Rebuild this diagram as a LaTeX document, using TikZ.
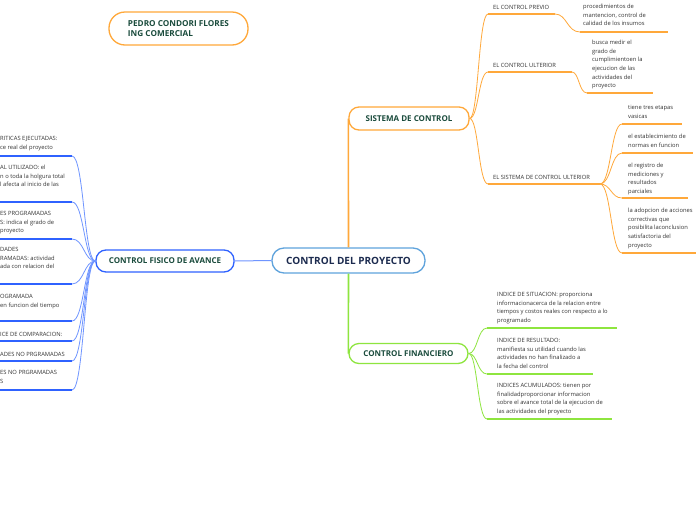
\documentclass[tikz,border=0pt]{standalone}
\usepackage{fontspec}
\setmainfont{Open Sans}
\definecolor{org}{HTML}{FFA83A}
\definecolor{blu}{HTML}{2F62FF}
\definecolor{bluc}{HTML}{6F95FF}
\definecolor{grn}{HTML}{8EE53F}
\definecolor{mainb}{HTML}{5FA3DC}
\definecolor{ntxt}{HTML}{1A4B3C}
\definecolor{mtxt}{HTML}{1C2B4F}
\definecolor{txtc}{HTML}{333333}
\tikzset{
  txt/.style={anchor=north west, inner sep=0pt, align=left, font=\fontsize{5.8}{8.6}\selectfont, text=txtc, execute at begin node={\rule{0pt}{5pt}}},
  ul/.style={line width=1.8pt},
  con/.style={line width=0.8pt},
  topic/.style={draw, line width=1.3pt, rounded corners=10pt, fill=white, inner sep=0pt, font=\bfseries\fontsize{8}{10}\selectfont, text=ntxt},
}
\begin{document}
\begin{tikzpicture}[x=1pt,y=-1pt]
\useasboundingbox (0,0) rectangle (696,520);
\fill[white] (0,0) rectangle (696,520);

% ---------- topic nodes
\node[topic, draw=mainb, minimum width=153pt, minimum height=25pt, rounded corners=12pt, font=\bfseries\fontsize{10}{12}\selectfont, text=mtxt] (main) at (348.5,260.5) {CONTROL DEL PROYECTO};
\node[topic, draw=blu, minimum width=138pt, minimum height=22pt] (fis) at (165,261) {CONTROL FISICO DE AVANCE};
\node[topic, draw=org, minimum width=120pt, minimum height=23pt] (sis) at (409,118.5) {SISTEMA DE CONTROL};
\node[topic, draw=grn, minimum width=119pt, minimum height=20pt] (fin) at (408.5,353.5) {CONTROL FINANCIERO};
\node[topic, draw=org, minimum width=139pt, minimum height=33pt, rounded corners=16pt, align=left, font=\bfseries\fontsize{8.2}{10}\selectfont] (title) at (178.5,28.5) {PEDRO CONDORI FLORES\\ING COMERCIAL};

% ---------- main branches
\draw[bluc, line width=1pt] (fis.east) -- (main.west);
\draw[org, line width=1.6pt] (main.north) -- (sis.west);
\draw[grn, line width=1.6pt] (main.south) -- (fin.west);

% ---------- SISTEMA DE CONTROL branch
\coordinate (p1s) at (488,14);  \coordinate (p1e) at (555,14);
\coordinate (p2s) at (488,72);  \coordinate (p2e) at (572,72);
\coordinate (p3s) at (488,184); \coordinate (p3e) at (600,184);
\coordinate (p1cs) at (580,32); \coordinate (p1ce) at (668,32);
\coordinate (p2cs) at (587,93); \coordinate (p2ce) at (653,93);
\coordinate (p3as) at (622,124); \coordinate (p3ae) at (682,124);
\coordinate (p3bs) at (622,153); \coordinate (p3be) at (693,153);
\coordinate (p3cs) at (622,198); \coordinate (p3ce) at (688,198);
\coordinate (p3ds) at (622,253); \coordinate (p3de) at (696,253);

\begin{scope}[org]
\draw[con] (sis.east) .. controls (478.5,118.5) and (478.5,14) .. (p1s);
\draw[con] (sis.east) .. controls (478.5,118.5) and (478.5,72) .. (p2s);
\draw[con] (sis.east) .. controls (478.5,118.5) and (478.5,184) .. (p3s);
\draw[ul] (p1s) -- (p1e);
\draw[ul] (p2s) -- (p2e);
\draw[ul] (p3s) -- (p3e);
\draw[con] (p1e) .. controls (567,14) and (567,32) .. (p1cs);
\draw[con] (p2e) .. controls (579,72) and (579,93) .. (p2cs);
\draw[ul] (p1cs) -- (p1ce);
\draw[ul] (p2cs) -- (p2ce);
\draw[con] (p3e) .. controls (611,184) and (611,124) .. (p3as);
\draw[con] (p3e) .. controls (611,184) and (611,153) .. (p3bs);
\draw[con] (p3e) .. controls (611,184) and (611,198) .. (p3cs);
\draw[con] (p3e) .. controls (611,184) and (611,253) .. (p3ds);
\draw[ul] (p3as) -- (p3ae);
\draw[ul] (p3bs) -- (p3be);
\draw[ul] (p3cs) -- (p3ce);
\draw[ul] (p3ds) -- (p3de);
\end{scope}

\node[txt] (p1) at (493,4) {EL CONTROL PREVIO};
\node[txt] (p1c) at (583,4) {procedimientos de\\mantencion, control de\\calidad de los insumos};
\node[txt] (p2) at (493,62) {EL CONTROL ULTERIOR};
\node[txt] (p2c) at (592,40) {busca medir el\\grado de\\cumplimientoen la\\ejecucion de las\\actividades del\\proyecto};
\node[txt] (p3) at (493,174) {EL SISTEMA DE CONTROL ULTERIOR};
\node[txt] (p3a) at (628,105) {tiene tres etapas\\vasicas};
\node[txt] (p3b) at (628,134) {el establecimiento de\\normas en funcion};
\node[txt] (p3c) at (628,163) {el registro de\\mediciones y\\resultados\\parciales};
\node[txt] (p3d) at (628,208) {la adopcion de acciones\\correctivas que\\posibilita laconclusion\\satisfactoria del\\proyecto};

% ---------- CONTROL FINANCIERO branch
\coordinate (g1s) at (487,328); \coordinate (g1e) at (617,328);
\coordinate (g2s) at (487,374); \coordinate (g2e) at (593,374);
\coordinate (g3s) at (487,419); \coordinate (g3e) at (612,419);
\begin{scope}[grn]
\draw[con] (fin.east) .. controls (477.5,353.5) and (477.5,328) .. (g1s);
\draw[con] (fin.east) .. controls (477.5,353.5) and (477.5,374) .. (g2s);
\draw[con] (fin.east) .. controls (477.5,353.5) and (477.5,419) .. (g3s);
\draw[ul] (g1s) -- (g1e);
\draw[ul] (g2s) -- (g2e);
\draw[ul] (g3s) -- (g3e);
\end{scope}
\node[txt] (g1) at (497,292) {INDICE DE SITUACION: proporciona\\informacionacerca de la relacion entre\\tiempos y costos reales con respecto a lo\\programado};
\node[txt] (g2) at (497,338) {INDICE DE RESULTADO:\\manifiesta su utilidad cuando las\\actividades no han finalizado a\\la fecha del control};
\node[txt] (g3) at (497,383) {INDICES ACUMULADOS: tienen por\\finalidadproporcionar informacion\\sobre el avance total de la ejecucion de\\las actividades del proyecto};

% ---------- CONTROL FISICO DE AVANCE branch
\foreach \n/\y in {1/156,2/202,3/239,4/284,5/321,6/341,7/361,8/390}{
  \coordinate (l\n s) at (-3,\y);
  \coordinate (l\n e) at (72,\y);
}
\foreach \n/\y in {1/156,2/202,3/239,4/284,5/321,6/341,7/361,8/390}{
  \draw[con, bluc] (l\n e) .. controls (84,\y) and (84,261) .. (fis.west);
  \draw[ul, blu, line width=1.5pt] (l\n s) -- (l\n e);
}
\node[txt] (l1) at (0,136) {RITICAS EJECUTADAS:\\ce real del proyecto};
\node[txt] (l2) at (0,165) {AL UTILIZADO: el\\n o toda la holgura total\\l afecta al inicio de las};
\node[txt] (l3) at (0,211) {ES PROGRAMADAS\\S: indica el grado de\\proyecto};
\node[txt] (l4) at (0,247) {DADES\\RAMADAS: actividad\\ada con relacion del};
\node[txt] (l5) at (0,294) {OGRAMADA\\en funcion del tiempo};
\node[txt] (l6) at (0,331) {ICE DE COMPARACION:};
\node[txt] (l7) at (0,351) {ADES NO PRGRAMADAS};
\node[txt] (l8) at (0,370) {ES NO PRGRAMADAS\\S};
\end{tikzpicture}
\end{document}
